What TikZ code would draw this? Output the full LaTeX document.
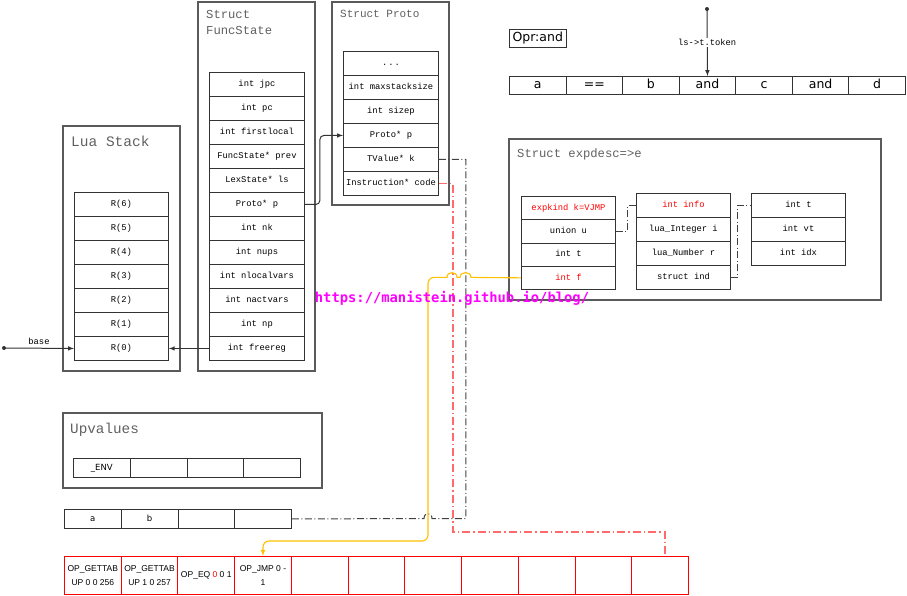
\documentclass[tikz,border=0pt]{standalone}
\usepackage{fontspec}
\setmainfont{Liberation Serif}
\newfontfamily\monofont{Liberation Mono}
\newfontfamily\tokfont{DejaVu Sans}
\newfontfamily\opfont{Liberation Sans}
\newfontfamily\wmfont{DejaVu Sans Mono}
\usetikzlibrary{calc}
\usetikzlibrary{arrows.meta}

\definecolor{boxgray}{HTML}{5A5A5A}
\definecolor{titlegray}{HTML}{606060}
\definecolor{codered}{HTML}{FF6B6B}
\definecolor{jmpyellow}{HTML}{FFC000}
\definecolor{wmpink}{HTML}{FF00FF}

\begin{document}
\begin{tikzpicture}[x=1pt, y=-1pt,
    outerbox/.style={draw=boxgray, line width=1.2pt},
    boxtitle/.style={anchor=north west, inner sep=0pt, text=titlegray, align=left, font=\monofont\fontsize{#1}{16}\selectfont},
    cell/.style={draw=black!80, line width=0.9pt, anchor=north west, inner sep=0pt, minimum width=95pt, minimum height=24pt, text height=6.5pt, text depth=2pt, font=\monofont\fontsize{8.8}{10}\selectfont},
    tok/.style={cell, minimum width=56.57pt, minimum height=18pt, text height=9pt, text depth=2.5pt, font=\tokfont\fontsize{12.5}{14}\selectfont},
    slot/.style={cell, minimum width=56.75pt, minimum height=19pt, text height=6.5pt, text depth=2pt, font=\tokfont\fontsize{8.5}{10}\selectfont},
    opcell/.style={cell, draw=red, minimum width=56.73pt, minimum height=38pt, text height=, text depth=, align=center, font=\opfont\fontsize{8.5}{14}\selectfont},
    link/.style={draw=black!75, line width=1pt, dash pattern=on 7pt off 2.5pt on 1pt off 2.5pt},
    codelink/.style={draw=codered, line width=1.8pt, dash pattern=on 8pt off 3pt on 1.5pt off 3pt},
    jmplink/.style={draw=jmpyellow, line width=1.1pt, -latex},
    ptrarrow/.style={draw=black!80, line width=1pt, -latex},
    small/.style={text=black, font=\monofont\fontsize{8.8}{10}\selectfont}]

    \useasboundingbox (0,0) rectangle (907,595);

    % Lua stack
    \draw[outerbox] (63,126) rectangle (180,371);
    \node[boxtitle=14.5] (stacktitle) at (71,136) {Lua Stack};
    \foreach \r [count=\i] in {6,...,0}
        \node[cell, minimum width=94pt] (st\i) at (74,{192+24*(\i-1)}) {R(\r)};

    \coordinate (base) at (4,348);
    \fill[black!80] (base) circle (2pt);
    \draw[ptrarrow] (base) -- node[above, small] (baselbl) {base} (st7.west);

    % FuncState
    \draw[outerbox] (198,2) rectangle (315,371);
    \node[boxtitle=12.2] (fstitle) at (206,10) {Struct\\FuncState};
    \foreach \f [count=\i] in {int jpc, int pc, int firstlocal, FuncState* prev, LexState* ls, Proto* p, int nk, int nups, int nlocalvars, int nactvars, int np, int freereg}
        \node[cell] (fs\i) at (209,{72+24*(\i-1)}) {\f};

    % Proto
    \draw[outerbox] (332,2) rectangle (449,205);
    \node[boxtitle=11] (prtitle) at (340,10) {Struct Proto};
    \foreach \f [count=\i] in {{.\hspace{1pt}.\hspace{1pt}.}, int maxstacksize, int sizep, Proto* p, TValue* k, Instruction* code}
        \node[cell] (pr\i) at (343,{51+24*(\i-1)}) {\f};

    \draw[ptrarrow, rounded corners=4pt] (fs6.east) -- ++(15,0) |- (pr4.west);
    \draw[ptrarrow] (fs12.west) -- (st7.east);

    % Upvalues and constants
    \draw[outerbox] (63,413) rectangle (322,488);
    \node[boxtitle=14.3] (uvtitle) at (70,423) {Upvalues};
    \foreach \u [count=\i] in {\_ENV,{},{},{}}
        \node[slot] (uv\i) at ({73+56.75*(\i-1)},458) {\u};
    \foreach \u [count=\i] in {a,b,{},{}}
        \node[slot] (ab\i) at ({64+56.75*(\i-1)},509) {\u};

    % code
    \foreach \o [count=\i] in {{OP\_GETTAB\\UP 0 0 256},{OP\_GETTAB\\UP 1 0 257},{OP\_EQ {\color{red}0} 0 1},{OP\_JMP 0 -\\1},{},{},{},{},{},{},{}}
        \node[opcell] (op\i) at ({64+56.73*(\i-1)},556) {\o};

    % tokens
    \node[tok] (opr) at (509,29) {Opr:and};
    \foreach \t [count=\i] in {a,==,b,and,c,and,d}
        \node[tok] (tk\i) at ({509+56.57*(\i-1)},76) {\t};
    \coordinate (tokpt) at (707,9);
    \fill[black!80] (tokpt) circle (2pt);
    \draw[ptrarrow] (tokpt) -- node[fill=white, inner sep=1pt, small] (toklbl) {ls->t.token} (tk4.north);

    % expdesc
    \draw[outerbox] (509,139) rectangle (881,300);
    \node[boxtitle=12.2] (edtitle) at (517,148) {Struct expdesc=>e};
    \foreach \f [count=\i] in {{\color{red}expkind k=VJMP}, union u, int t, {\color{red}int f}}
        \node[cell, minimum width=94pt, minimum height=23.25pt] (ea\i) at (521,{196+23.25*(\i-1)}) {\f};
    \foreach \f [count=\i] in {{\color{red}int info}, lua\_Integer i, lua\_Number r, struct ind}
        \node[cell, minimum width=94pt] (eb\i) at (636,{193+24*(\i-1)}) {\f};
    \foreach \f [count=\i] in {int t, int vt, int idx}
        \node[cell, minimum width=94pt] (ec\i) at (751,{193+24*(\i-1)}) {\f};

    \draw[link] (ea2.east) -- ++(12,0) |- (eb1.west);
    \draw[link] (eb4.east) -- ++(7,0) |- (ec1.west);

    % k, code and jump
    \draw[link] (pr5.east) -- ++(27,0) |- (432,518.5) .. controls (432,512) and (424,512) .. (424,518.5) -- (ab4.east);
    \draw[codelink] (pr6.east) -- ++(14,0) |- ($(op11.north)+(5,-24)$) -- ($(op11.north)+(5,0)$);
    \draw[jmplink] (ea4.west) -- (471,277.4) .. controls (471,271) and (460,271) .. (460,277.4) -- (457,277.4) .. controls (457,271) and (447,271) .. (447,277.4) [rounded corners=6pt] -- (428,277.4) -- (428,541) -- (op4.north |- 0,541) -- (op4.north);

    \node[text=wmpink, font=\wmfont\bfseries\fontsize{13.8}{16}\selectfont] (wm) at (452,298) {https://manistein.github.io/blog/};
\end{tikzpicture}
\end{document}
